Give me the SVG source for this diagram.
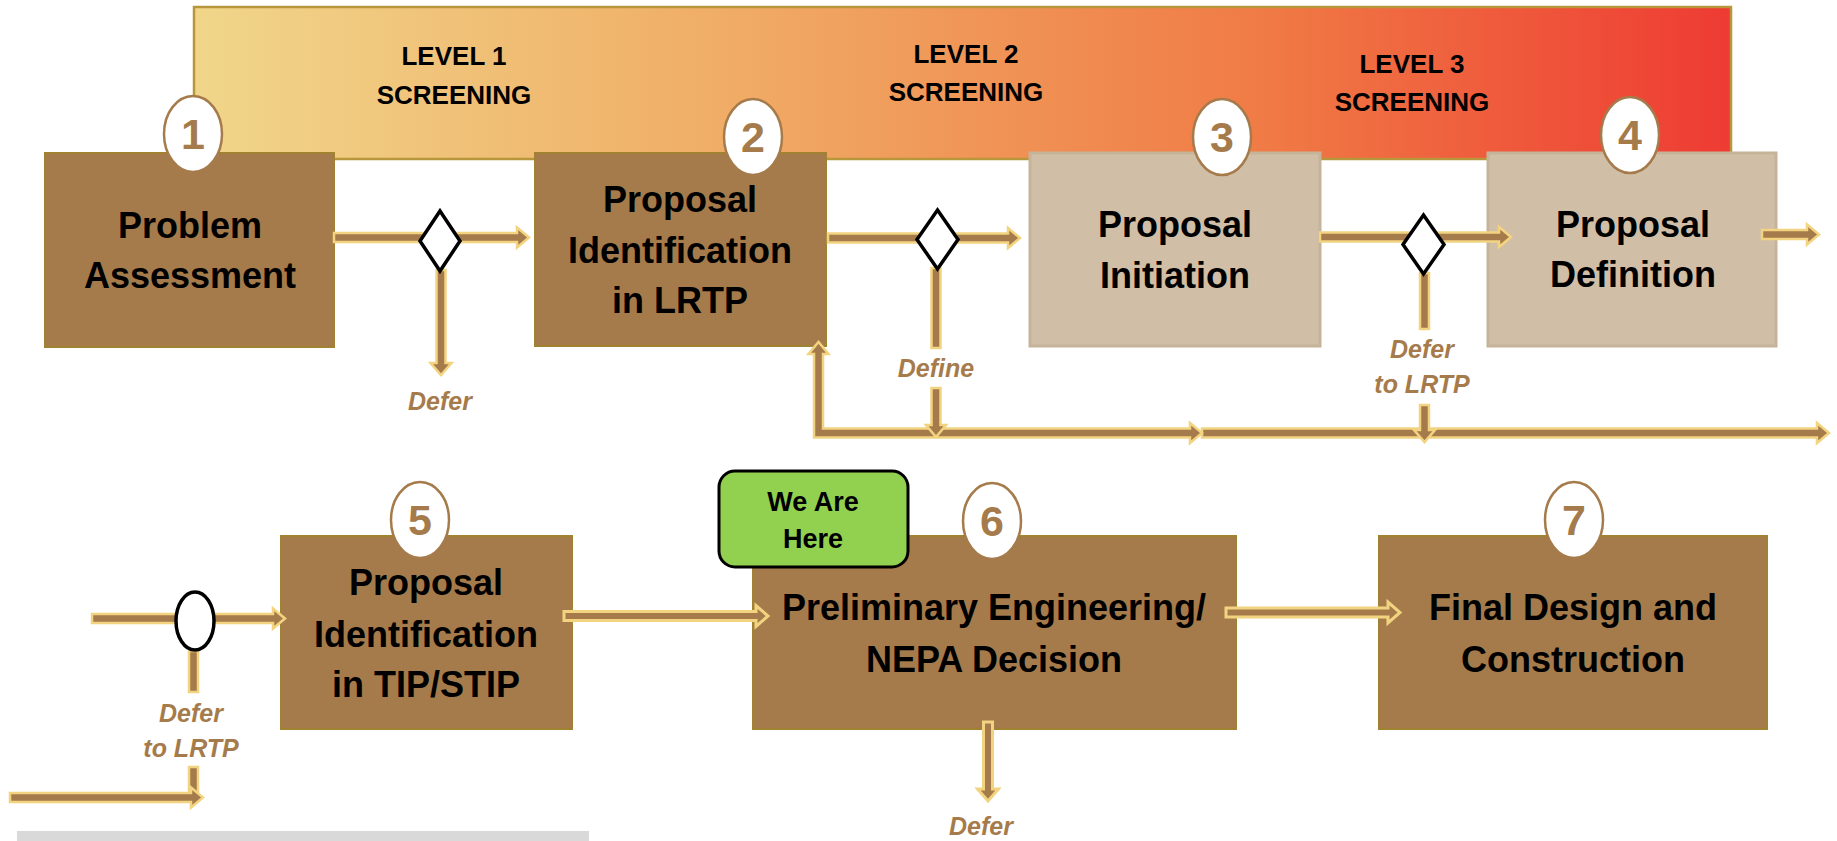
<svg xmlns="http://www.w3.org/2000/svg" width="1837" height="841" viewBox="0 0 1837 841">
<defs>
<linearGradient id="bannerGrad" x1="0" y1="0" x2="1" y2="0">
<stop offset="0" stop-color="#F0D68A"/>
<stop offset="0.35" stop-color="#F0AC66"/>
<stop offset="0.7" stop-color="#F07A45"/>
<stop offset="1" stop-color="#EE3B33"/>
</linearGradient>
<style>
text{font-family:"Liberation Sans",Arial,sans-serif;font-weight:bold;text-anchor:middle}
.box{fill:#A67B4B;stroke:#A08230;stroke-width:2}
.tan{fill:#D1BEA6;stroke:#C5B39A;stroke-width:3}
.lbl{font-size:36px;fill:#000}
.num{fill:#fff;stroke:#A67B4B;stroke-width:2.5}
.numt{font-size:43px;fill:#A67B4B}
.lvl{font-size:26px;fill:#000}
.arr{fill:#A67B4B;stroke:#F2D480;stroke-width:2.5;stroke-linejoin:miter}
.arr2{fill:#A67B4B;stroke:#F2D480;stroke-width:3;stroke-linejoin:miter}
.dec{fill:#fff;stroke:#000;stroke-width:3.5}
.def{font-size:25px;font-style:italic;fill:#A67B4B}
</style>
</defs>
<rect x="0" y="0" width="1837" height="841" fill="#fff"/>

<g id="banner">
<rect x="194" y="7" width="1537" height="152" fill="url(#bannerGrad)" stroke="#B8963C" stroke-width="2.5"/>
<text class="lvl" x="454" y="65">LEVEL 1</text>
<text class="lvl" x="454" y="104">SCREENING</text>
<text class="lvl" x="966" y="63">LEVEL 2</text>
<text class="lvl" x="966" y="101">SCREENING</text>
<text class="lvl" x="1412" y="73">LEVEL 3</text>
<text class="lvl" x="1412" y="111">SCREENING</text>
</g>

<g id="node1">
<rect class="box" x="45" y="153" width="289" height="194"/>
<ellipse class="num" cx="193" cy="134" rx="29" ry="38"/>
<text class="numt" x="193" y="149">1</text>
<text class="lbl" x="190" y="238">Problem</text>
<text class="lbl" x="190" y="288">Assessment</text>
</g>

<g id="node2">
<rect class="box" x="535" y="153" width="291" height="193"/>
<ellipse class="num" cx="753" cy="137" rx="29" ry="38"/>
<text class="numt" x="753" y="152">2</text>
<text class="lbl" x="680" y="212">Proposal</text>
<text class="lbl" x="680" y="263">Identification</text>
<text class="lbl" x="680" y="313">in LRTP</text>
</g>

<g id="node3">
<rect class="tan" x="1030" y="153" width="290" height="193"/>
<ellipse class="num" cx="1222" cy="137" rx="29" ry="38"/>
<text class="numt" x="1222" y="152">3</text>
<text class="lbl" x="1175" y="237">Proposal</text>
<text class="lbl" x="1175" y="288">Initiation</text>
</g>

<g id="node4">
<rect class="tan" x="1488" y="153" width="288" height="193"/>
<ellipse class="num" cx="1630" cy="135" rx="29" ry="38"/>
<text class="numt" x="1630" y="150">4</text>
<text class="lbl" x="1633" y="237">Proposal</text>
<text class="lbl" x="1633" y="287">Definition</text>
</g>

<g id="node5">
<rect class="box" x="281" y="536" width="291" height="193"/>
<ellipse class="num" cx="420" cy="520" rx="29" ry="38"/>
<text class="numt" x="420" y="535">5</text>
<text class="lbl" x="426" y="595">Proposal</text>
<text class="lbl" x="426" y="647">Identification</text>
<text class="lbl" x="426" y="697">in TIP/STIP</text>
</g>

<g id="node6">
<rect class="box" x="753" y="536" width="483" height="193"/>
<ellipse class="num" cx="992" cy="521" rx="29" ry="38"/>
<text class="numt" x="992" y="536">6</text>
<text class="lbl" x="994" y="620">Preliminary Engineering/</text>
<text class="lbl" x="994" y="672">NEPA Decision</text>
</g>

<g id="node7">
<rect class="box" x="1379" y="536" width="388" height="193"/>
<ellipse class="num" cx="1574" cy="520" rx="29" ry="38"/>
<text class="numt" x="1574" y="535">7</text>
<text class="lbl" x="1573" y="620">Final Design and</text>
<text class="lbl" x="1573" y="672">Construction</text>
</g>

<g id="connectors">
<polygon class="arr" points="334,233 517,233 517,227.5 529,237.5 517,247.5 517,242 334,242"/>
<polygon class="arr" points="828,233.5 1008,233.5 1008,228 1020,238 1008,248 1008,242.5 828,242.5"/>
<polygon class="arr" points="1320,232.5 1499,232.5 1499,227 1511,237 1499,247 1499,241.5 1320,241.5"/>
<polygon class="arr" points="1762,230 1807,230 1807,224.5 1819,234.5 1807,244.5 1807,239 1762,239"/>
<polygon class="arr" points="436.5,270 445.5,270 445.5,363 451.5,363 441,375 430.5,363 436.5,363"/>
<polygon class="arr" points="931.5,268 940.5,268 940.5,348 931.5,348"/>
<polygon class="arr" points="1202,428.5 1817,428.5 1817,423 1829,433 1817,443 1817,437.5 1202,437.5"/>
<polygon class="arr" points="814,437.5 814,354 808.5,354 818.5,342 828.5,354 823,354 823,428.5 1190,428.5 1190,423 1202,433 1190,443 1190,437.5"/>
<polygon class="arr" points="931.5,388 940.5,388 940.5,425 946,425 936,437 926,425 931.5,425"/>
<polygon class="arr" points="1420,273 1429,273 1429,329 1420,329"/>
<polygon class="arr" points="1420,405 1429,405 1429,430 1435,430 1424.5,442 1414,430 1420,430"/>
<polygon class="arr" points="92,614 273,614 273,608.5 285,618.5 273,628.5 273,623 92,623"/>
<polygon class="arr" points="189,651 198,651 198,692 189,692"/>
<polygon class="arr" points="189,767 198,767 198,797 189,797"/>
<polygon class="arr" points="10,793 191,793 191,787.5 203,797.5 191,807.5 191,802 10,802"/>
<polygon class="arr2" points="564,611.5 756,611.5 756,605.5 768,616 756,626.5 756,620.5 564,620.5"/>
<polygon class="arr2" points="1226,608 1388,608 1388,602 1400,612.5 1388,623 1388,617 1226,617"/>
<polygon class="arr2" points="983.5,722 992.5,722 992.5,789 998.5,789 988,801 977.5,789 983.5,789"/>
</g>

<g id="decision1"><polygon class="dec" points="440,211 460,241 440,271 420,241"/></g>
<g id="decision2"><polygon class="dec" points="937.5,210 958,239.5 937.5,269 917,239.5"/></g>
<g id="decision3"><polygon class="dec" points="1423.5,215 1444,244.5 1423.5,274 1403,244.5"/></g>
<g id="decision4"><ellipse class="dec" cx="195" cy="621" rx="19" ry="29"/></g>

<g id="labels">
<text class="def" x="440" y="410">Defer</text>
<text class="def" x="936" y="377">Define</text>
<text class="def" x="1422" y="358">Defer</text>
<text class="def" x="1422" y="393">to LRTP</text>
<text class="def" x="191" y="722">Defer</text>
<text class="def" x="191" y="757">to LRTP</text>
<text class="def" x="981" y="835">Defer</text>
</g>

<g id="here">
<rect x="719" y="471" width="189" height="96" rx="16" ry="16" fill="#92D050" stroke="#000" stroke-width="3"/>
<text x="813" y="511" font-size="27" fill="#000">We Are</text>
<text x="813" y="548" font-size="27" fill="#000">Here</text>
</g>

<rect id="footerbar" x="17" y="831" width="572" height="10" fill="#D9D9D9"/>
</svg>
